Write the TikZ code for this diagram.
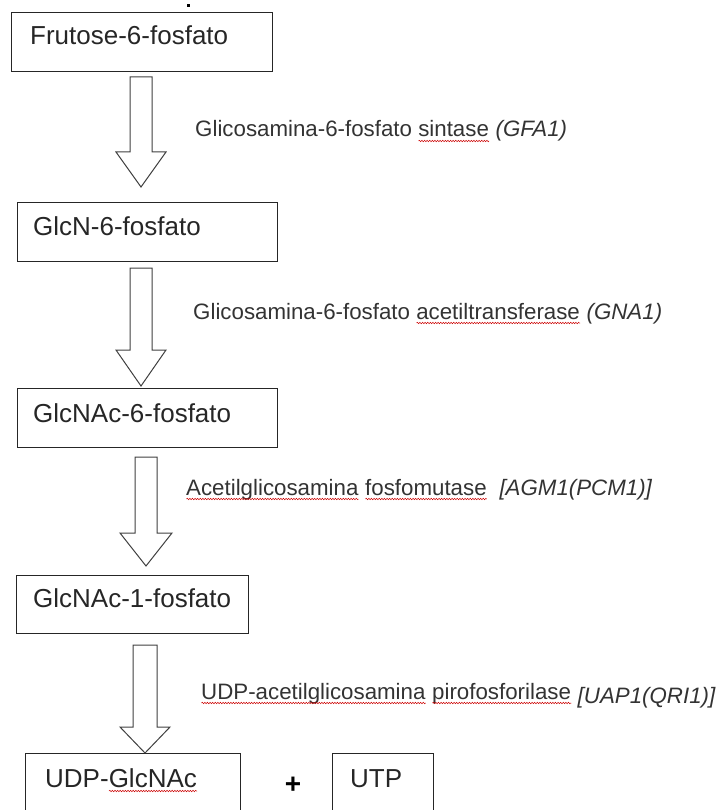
\documentclass[tikz,border=0pt]{standalone}
\usepackage{fontspec}
\setmainfont{Liberation Sans}
\usetikzlibrary{decorations.pathmorphing}
\newsavebox\swbox
\newcommand\sw[1]{\sbox\swbox{#1}\mbox{\rlap{\usebox\swbox}\tikz[baseline=0pt]{\draw[red!80!black, line width=0.5pt, decorate, decoration={snake, amplitude=0.7pt, segment length=2.6pt}] (0pt,-4pt) -- (\wd\swbox,-4pt);}}}
\tikzset{
  box/.style={draw=black!85, line width=1.1pt, anchor=north west, inner sep=0pt},
  boxtext/.style={anchor=base west, inner sep=0pt, font=\fontsize{26}{30}\selectfont, text=black!85},
  lbl/.style={anchor=base west, inner sep=0pt, font=\fontsize{22.3}{26}\selectfont, text=black!80},
  blk/.style={draw=black!75, line width=1pt, fill=white, line join=miter}
}
% \blockarrow{center x}{top y}{shaft bottom y}{tip y}{shaft half}{head half}
\newcommand\blockarrow[6]{%
  \draw[blk] (#1-#5,#2) -- (#1+#5,#2) -- (#1+#5,#3) -- (#1+#6,#3) -- (#1,#4)
    -- (#1-#6,#3) -- (#1-#5,#3) -- cycle;}
\begin{document}
\begin{tikzpicture}[x=1pt,y=-1pt]
\useasboundingbox (0,0) rectangle (717,810);
% stray dot
\fill[black] (186.5,4.5) rectangle (189.5,7.5);
% boxes
\node[box, minimum width=261pt, minimum height=59pt] (b1) at (11,12) {};
\node[boxtext] (t1) at ([shift={(19pt,-33pt)}]b1.north west) {Frutose-6-fosfato};
\node[box, minimum width=260pt, minimum height=59pt] (b2) at (17,202) {};
\node[boxtext] (t2) at ([shift={(16pt,-33pt)}]b2.north west) {GlcN-6-fosfato};
\node[box, minimum width=260pt, minimum height=59pt] (b3) at (17,388) {};
\node[boxtext] (t3) at ([shift={(16pt,-34pt)}]b3.north west) {GlcNAc-6-fosfato};
\node[box, minimum width=232pt, minimum height=58pt] (b4) at (16,575) {};
\node[boxtext] (t4) at ([shift={(17pt,-32pt)}]b4.north west) {GlcNAc-1-fosfato};
\node[box, minimum width=215pt, minimum height=70pt] (b5) at (25,753) {};
\node[boxtext] (t5) at ([shift={(20pt,-34pt)}]b5.north west) {UDP-\sw{GlcNAc}};
\node[box, minimum width=101pt, minimum height=70pt] (b6) at (332,753) {};
\node[boxtext] (t6) at ([shift={(18pt,-34pt)}]b6.north west) {UTP};
\node[font=\bfseries\fontsize{28}{30}\selectfont, inner sep=0pt] (plus) at (293,785) {+};
% block arrows
\blockarrow{141}{77}{152}{187}{11}{25}
\blockarrow{141}{268}{350}{386}{11}{25}
\blockarrow{146}{457}{533}{566}{11}{26}
\blockarrow{145}{645}{727}{753}{12}{25}
% enzyme labels
\node[lbl] (e1) at (195,137) {Glicosamina-6-fosfato \sw{sintase} \textit{(GFA1)}};
\node[lbl] (e2) at (193,319) {Glicosamina-6-fosfato \sw{acetiltransferase} \textit{(GNA1)}};
\node[lbl] (e3) at (186,495) {\sw{Acetilglicosamina} \sw{fosfomutase}\ \ \textit{[AGM1(PCM1)]}};
\node[lbl] (e4) at (201,699) {\sw{UDP-acetilglicosamina} \sw{pirofosforilase} \raisebox{-4pt}{\textit{[UAP1(QRI1)]}}};
\end{tikzpicture}
\end{document}
